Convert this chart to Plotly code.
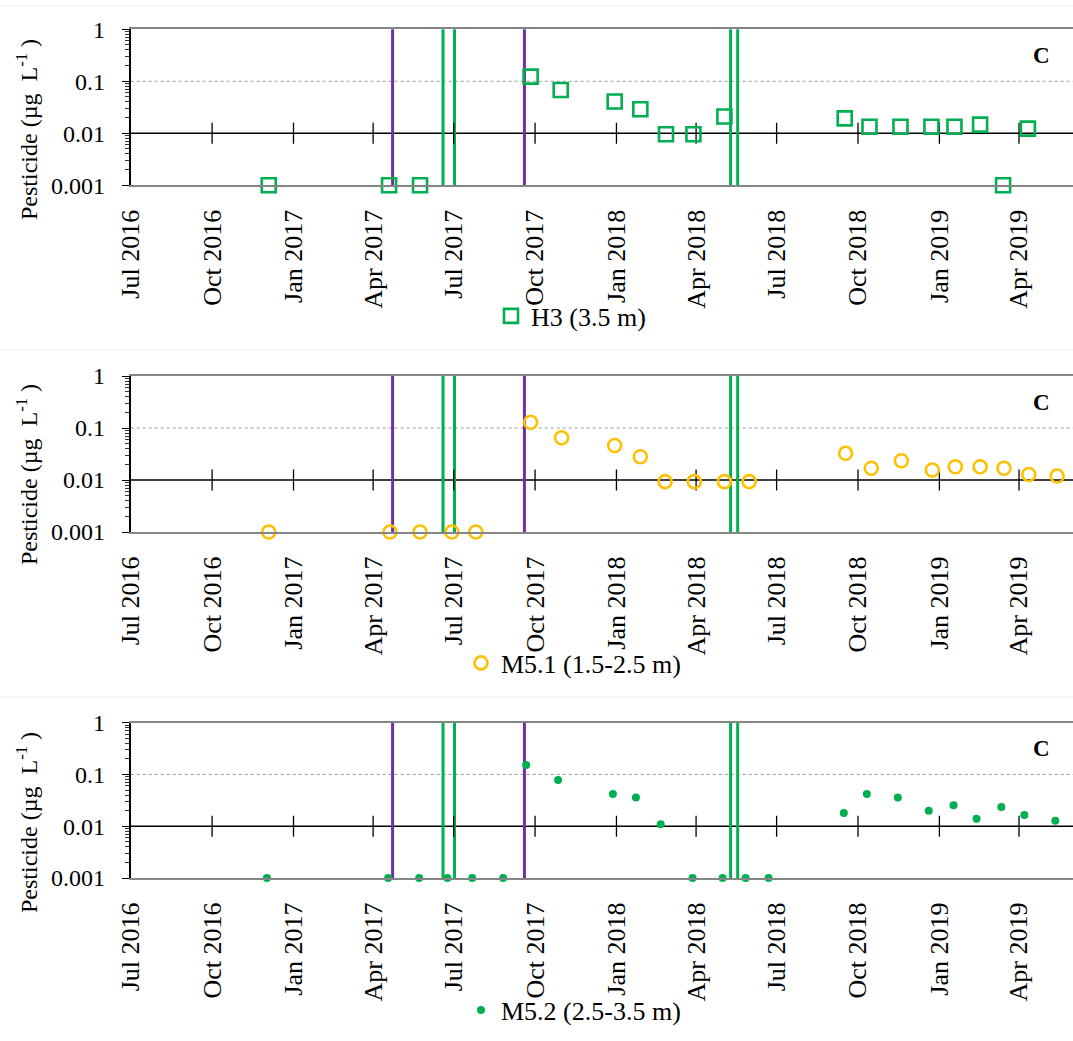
import plotly.graph_objects as go

# ---------------- data ----------------
h3_dates = ["2016-12-04", "2017-04-19", "2017-05-24", "2017-09-26", "2017-10-30",
            "2017-12-30", "2018-01-28", "2018-02-26", "2018-03-29", "2018-05-03",
            "2018-09-16", "2018-10-14", "2018-11-18", "2018-12-23", "2019-01-18",
            "2019-02-16", "2019-03-14", "2019-04-11"]
h3_vals = [0.001, 0.001, 0.001, 0.123, 0.068,
           0.041, 0.029, 0.0096, 0.0096, 0.021,
           0.0194, 0.0134, 0.0134, 0.0134, 0.0134,
           0.0147, 0.001, 0.0123]

m51_dates = ["2016-12-04", "2017-04-20", "2017-05-24", "2017-06-29", "2017-07-26",
             "2017-09-26", "2017-10-31", "2017-12-30", "2018-01-28", "2018-02-25",
             "2018-03-30", "2018-05-03", "2018-05-31", "2018-09-17", "2018-10-16",
             "2018-11-19", "2018-12-24", "2019-01-19", "2019-02-16", "2019-03-15",
             "2019-04-12", "2019-05-14"]
m51_vals = [0.001, 0.001, 0.001, 0.001, 0.001,
            0.129, 0.065, 0.046, 0.028, 0.0093,
            0.0093, 0.0093, 0.0093, 0.0326, 0.0168,
            0.0235, 0.0156, 0.018, 0.018, 0.0168,
            0.0128, 0.0119]

m52_dates = ["2016-12-02", "2017-04-18", "2017-05-23", "2017-06-24", "2017-07-22",
             "2017-08-26", "2017-09-21", "2017-10-27", "2017-12-28", "2018-01-23",
             "2018-02-20", "2018-03-28", "2018-05-01", "2018-05-27", "2018-06-22",
             "2018-09-15", "2018-10-11", "2018-11-15", "2018-12-20", "2019-01-17",
             "2019-02-12", "2019-03-12", "2019-04-07", "2019-05-12"]
m52_vals = [0.001, 0.001, 0.001, 0.001, 0.001,
            0.001, 0.152, 0.078, 0.042, 0.036,
            0.0109, 0.001, 0.001, 0.001, 0.001,
            0.018, 0.042, 0.036, 0.02, 0.0253,
            0.014, 0.0235, 0.0164, 0.0128]

series_names = ["H3 (3.5 m)", "M5.1 (1.5-2.5 m)", "M5.2 (2.5-3.5 m)"]

purple_dates = ["2017-04-23", "2017-09-19"]
green_dates = ["2017-06-19", "2017-07-02", "2018-05-10", "2018-05-18"]

quarter_ticks = ["2016-07-01", "2016-10-01", "2017-01-01", "2017-04-01", "2017-07-01",
                 "2017-10-01", "2018-01-01", "2018-04-01", "2018-07-01", "2018-10-01",
                 "2019-01-01", "2019-04-01"]
quarter_labels = ["Jul 2016", "Oct 2016", "Jan 2017", "Apr 2017", "Jul 2017",
                  "Oct 2017", "Jan 2018", "Apr 2018", "Jul 2018", "Oct 2018",
                  "Jan 2019", "Apr 2019"]
y_ticks = [0.001, 0.01, 0.1, 1]
y_tick_labels = ["0.001", "0.01", "0.1", "1"]
y_minor_ticks = [m * 10.0 ** e for e in (-3, -2, -1) for m in range(2, 10)]
x_range = ["2016-07-01", "2019-06-01"]
axis_cross_value = 0.01
grid_value = 0.1
panel_letter = "C"

# ---------------- styling ----------------
W, H = 1073, 1041
FONT = "Liberation Serif"
GREEN = "#00B050"
ORANGE = "#FFC000"
PURPLE = "#7030A0"

panel_px = [(29.3, 185.3), (376.0, 532.0), (722.7, 878.0)]
x_dom = [130.7 / W, 1.0]
legend_px = [(491, 316), (461, 663), (461, 1010)]
ytitle_y = [130, 475, 823]
faint_top = [6, 350, 697]

markers = [
    dict(symbol="square-open", size=14, color=GREEN, line=dict(width=2.6, color=GREEN)),
    dict(symbol="circle-open", size=13, color=ORANGE, line=dict(width=2.6, color=ORANGE)),
    dict(symbol="circle", size=8, color=GREEN),
]
data_x = [h3_dates, m51_dates, m52_dates]
data_y = [h3_vals, m51_vals, m52_vals]

fig = go.Figure()
shapes = []
annotations = []
layout = dict(
    width=W, height=H, autosize=False,
    margin=dict(l=0, r=0, t=0, b=0, pad=0),
    paper_bgcolor="white", plot_bgcolor="white",
    font=dict(family=FONT, size=24, color="black"),
    showlegend=True,
)

for i in range(3):
    n = "" if i == 0 else str(i + 1)
    xa, ya = "x" + n, "y" + n
    top, bot = panel_px[i]
    ydom = [1 - bot / H, 1 - top / H]
    leg = "legend" + n

    # tick marks on the crossing axis line at 0.01
    fig.add_trace(go.Scatter(
        x=quarter_ticks[1:], y=[axis_cross_value] * (len(quarter_ticks) - 1),
        mode="markers", xaxis=xa, yaxis=ya, showlegend=False, hoverinfo="skip",
        marker=dict(symbol="line-ns", size=15, line=dict(width=1.3, color="black")),
    ))
    # data series
    fig.add_trace(go.Scatter(
        x=data_x[i], y=data_y[i], mode="markers", name=series_names[i],
        xaxis=xa, yaxis=ya, marker=markers[i], legend=leg, cliponaxis=False,
    ))

    layout["xaxis" + n] = dict(
        domain=x_dom, anchor=ya, type="date", range=x_range, automargin=False,
        tickvals=quarter_ticks, ticktext=quarter_labels, tickangle=-90,
        tickfont=dict(family=FONT, size=26), ticks="", ticklabelstandoff=12,
        showline=True, linecolor="#858585", linewidth=2.2, mirror=True,
        showgrid=False, zeroline=False, fixedrange=True,
    )
    layout["yaxis" + n] = dict(
        domain=ydom, anchor=xa, type="log", range=[-3, 0], automargin=False,
        tickvals=y_ticks, ticktext=y_tick_labels,
        tickfont=dict(family=FONT, size=24),
        ticks="outside", ticklen=7, tickwidth=1.3, tickcolor="black",
        ticklabelstandoff=12,
        minor=dict(ticks="outside", ticklen=4, tickwidth=1, tickcolor="#333333",
                   tickvals=y_minor_ticks, showgrid=False),
        showline=True, linecolor="black", linewidth=2, mirror=False,
        showgrid=False, zeroline=False, fixedrange=True,
    )
    layout[leg] = dict(
        x=legend_px[i][0] / W, y=1 - legend_px[i][1] / H,
        xanchor="left", yanchor="middle", orientation="h",
        bgcolor="rgba(0,0,0,0)", font=dict(family=FONT, size=26),
        itemwidth=30, tracegroupgap=0,
    )

    # dotted grid line at 0.1 and black crossing axis line at 0.01
    shapes.append(dict(type="line", xref=xa + " domain", yref=ya,
                       x0=0, x1=1, y0=grid_value, y1=grid_value,
                       line=dict(color="#9a9a9a", width=1, dash="dot"), layer="below"))
    shapes.append(dict(type="line", xref=xa + " domain", yref=ya,
                       x0=0, x1=1, y0=axis_cross_value, y1=axis_cross_value,
                       line=dict(color="black", width=1.5), layer="below"))
    for d in purple_dates:
        shapes.append(dict(type="line", xref=xa, yref=ya + " domain", x0=d, x1=d,
                           y0=0, y1=1, line=dict(color=PURPLE, width=3), layer="below"))
    for d in green_dates:
        shapes.append(dict(type="line", xref=xa, yref=ya + " domain", x0=d, x1=d,
                           y0=0, y1=1, line=dict(color=GREEN, width=3), layer="below"))
    shapes.append(dict(type="line", xref="paper", yref="paper", x0=0, x1=1,
                       y0=1 - faint_top[i] / H, y1=1 - faint_top[i] / H,
                       line=dict(color="#ececec", width=1), layer="below"))

    annotations.append(dict(
        text=panel_letter, xref=xa + " domain", yref=ya + " domain",
        x=0.967, y=0.833, showarrow=False, xanchor="center", yanchor="middle",
        font=dict(family=FONT, size=23, color="black", weight="bold"),
    ))
    annotations.append(dict(
        text="Pesticide (µg\u00a0\u00a0L<sup>-1</sup>\u00a0)", xref="paper", yref="paper",
        x=27 / W, y=1 - ytitle_y[i] / H, textangle=-90, showarrow=False,
        xanchor="center", yanchor="middle",
        font=dict(family=FONT, size=24, color="black"),
    ))

layout["shapes"] = shapes
layout["annotations"] = annotations
fig.update_layout(**layout)

fig.write_html("out.html", config={"displayModeBar": False},
               post_script="document.body.style.margin='0';document.body.style.overflow='hidden';")
